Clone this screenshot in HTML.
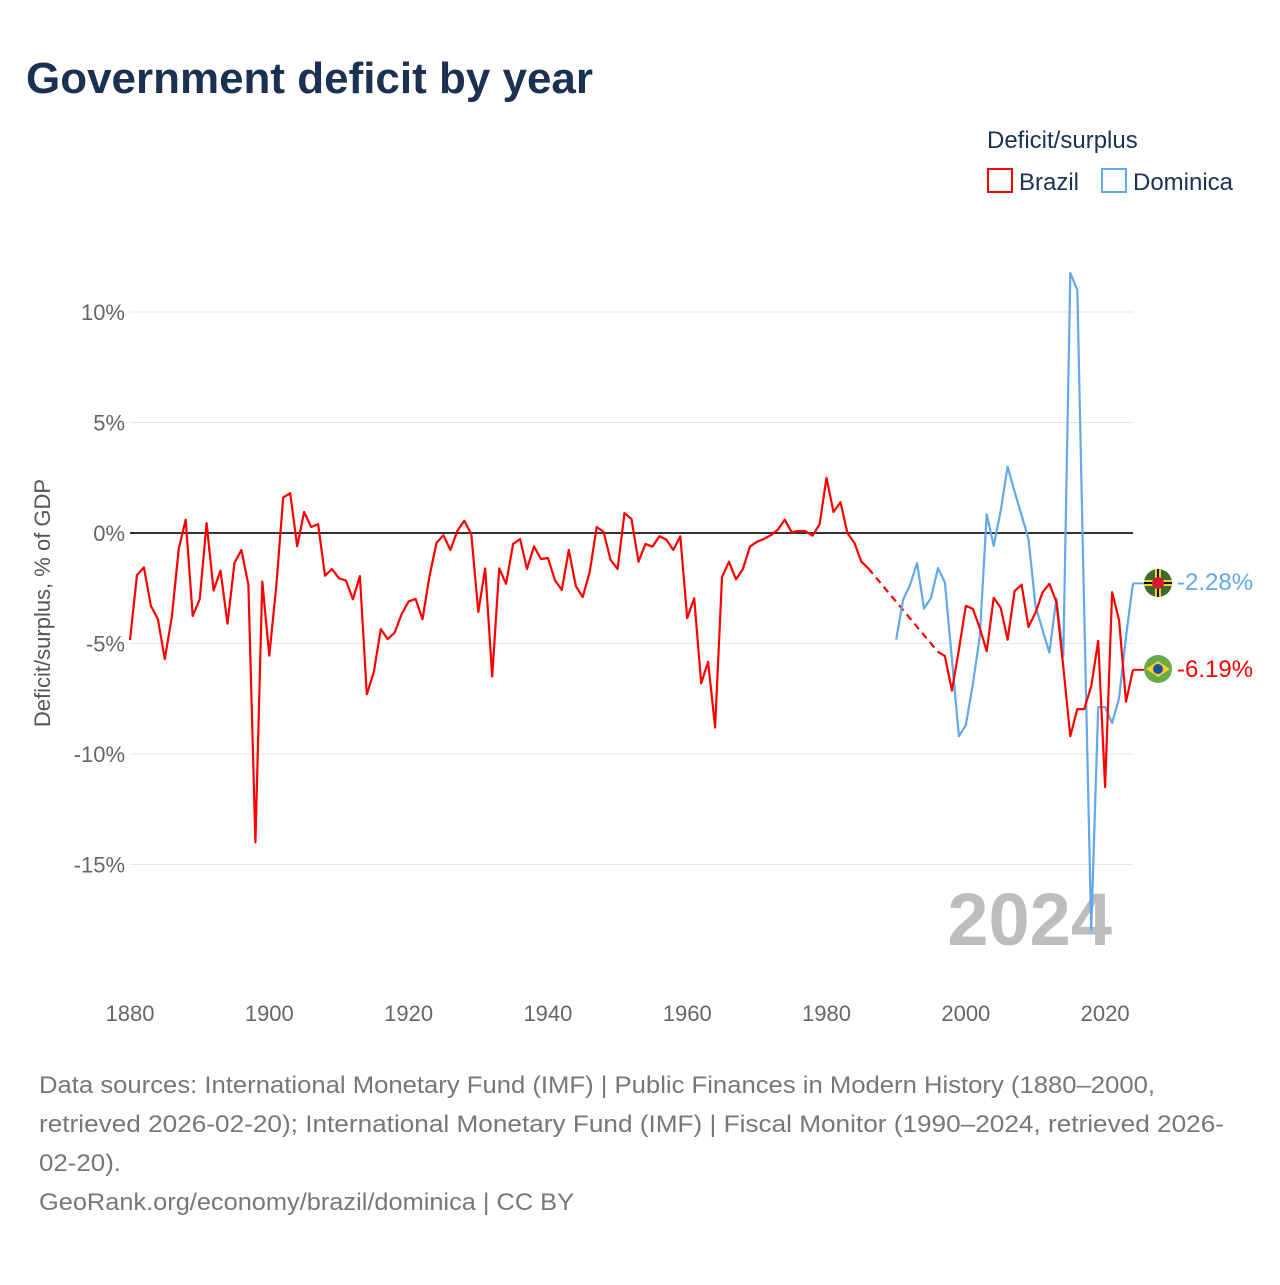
<!DOCTYPE html>
<html><head><meta charset="utf-8"><style>
html,body{margin:0;padding:0;background:#fff;}
body{width:1280px;height:1280px;overflow:hidden;font-family:"Liberation Sans",sans-serif;}
</style></head><body>
<svg id="chart" width="1280" height="1280" xmlns="http://www.w3.org/2000/svg" font-family="Liberation Sans, sans-serif">
<text x="26" y="93" font-size="44" font-weight="bold" fill="#1b3152" textLength="567" lengthAdjust="spacingAndGlyphs">Government deficit by year</text>
<g>
<text x="987" y="148" font-size="24" fill="#1b3152">Deficit/surplus</text>
<rect x="988" y="169" width="24" height="23" fill="none" stroke="#ff0000" stroke-width="2"/>
<text x="1019" y="190" font-size="24" fill="#1b3152">Brazil</text>
<rect x="1102" y="169" width="24" height="23" fill="none" stroke="#62a8ea" stroke-width="2"/>
<text x="1133" y="190" font-size="24" fill="#1b3152">Dominica</text>
</g>
<g id="grid"></g>
<g id="xaxis"></g>
<text transform="translate(50,603) rotate(-90)" text-anchor="middle" font-size="22" fill="#555">Deficit/surplus, % of GDP</text>
<text x="1112" y="945" text-anchor="end" font-size="74" font-weight="bold" fill="#bdbdbd">2024</text>
<g id="series"></g>
<g>
<circle cx="1158" cy="583" r="14" fill="#3d6b2c"/>
<rect x="1155" y="569" width="6" height="28" fill="#f5d130"/><rect x="1144" y="580" width="28" height="6" fill="#f5d130"/>
<rect x="1157" y="569" width="2" height="28" fill="#111"/><rect x="1144" y="582" width="28" height="2" fill="#111"/>
<circle cx="1158" cy="583" r="6" fill="#d41c30"/>
</g>
<text x="1177" y="590" font-size="24" fill="#62a8ea">-2.28%</text>
<g>
<circle cx="1158" cy="669" r="14" fill="#6aa94a"/>
<polygon points="1146,669 1158,661 1170,669 1158,677" fill="#f5d130"/>
<circle cx="1158" cy="669" r="5" fill="#1d4f9c"/>
</g>
<text x="1177" y="677" font-size="24" fill="#ff0000">-6.19%</text>
<g font-size="24" fill="#777">
<text x="39" y="1093" textLength="1116" lengthAdjust="spacingAndGlyphs">Data sources: International Monetary Fund (IMF) | Public Finances in Modern History (1880–2000,</text>
<text x="39" y="1132" textLength="1185" lengthAdjust="spacingAndGlyphs">retrieved 2026-02-20); International Monetary Fund (IMF) | Fiscal Monitor (1990–2024, retrieved 2026-</text>
<text x="39" y="1171" textLength="82" lengthAdjust="spacingAndGlyphs">02-20).</text>
<text x="39" y="1210" textLength="535" lengthAdjust="spacingAndGlyphs">GeoRank.org/economy/brazil/dominica | CC BY</text>
</g>
</svg>
<script>
const yTicks=[10,5,0,-5,-10,-15];
const yTickLabels=["10%","5%","0%","-5%","-10%","-15%"];
const xTicks=[1880,1900,1920,1940,1960,1980,2000,2020];
const brazilYears1=[1880,1881,1882,1883,1884,1885,1886,1887,1888,1889,1890,1891,1892,1893,1894,1895,1896,1897,1898,1899,1900,1901,1902,1903,1904,1905,1906,1907,1908,1909,1910,1911,1912,1913,1914,1915,1916,1917,1918,1919,1920,1921,1922,1923,1924,1925,1926,1927,1928,1929,1930,1931,1932,1933,1934,1935,1936,1937,1938,1939,1940,1941,1942,1943,1944,1945,1946,1947,1948,1949,1950,1951,1952,1953,1954,1955,1956,1957,1958,1959,1960,1961,1962,1963,1964,1965,1966,1967,1968,1969,1970,1971,1972,1973,1974,1975,1976,1977,1978,1979,1980,1981,1982,1983,1984,1985,1986];
const brazilValues1=[-4.84,-1.9,-1.55,-3.3,-3.9,-5.7,-3.8,-0.7,0.6,-3.75,-3.0,0.45,-2.6,-1.7,-4.1,-1.35,-0.77,-2.35,-14.0,-2.2,-5.55,-2.4,1.6,1.8,-0.6,0.95,0.27,0.4,-1.93,-1.63,-2.05,-2.15,-3.0,-1.95,-7.3,-6.3,-4.35,-4.8,-4.5,-3.67,-3.1,-2.98,-3.9,-1.95,-0.45,-0.1,-0.77,0.1,0.55,-0.05,-3.57,-1.6,-6.5,-1.6,-2.3,-0.5,-0.27,-1.63,-0.6,-1.18,-1.13,-2.13,-2.58,-0.77,-2.4,-2.9,-1.77,0.27,0.05,-1.22,-1.63,0.9,0.63,-1.3,-0.5,-0.62,-0.15,-0.3,-0.77,-0.15,-3.85,-2.95,-6.8,-5.83,-8.8,-2.0,-1.3,-2.1,-1.63,-0.62,-0.4,-0.27,-0.1,0.15,0.6,0.03,0.1,0.08,-0.12,0.4,2.5,0.95,1.4,0.0,-0.45,-1.3,-1.6];
const brazilYears2=[1996,1997,1998,1999,2000,2001,2002,2003,2004,2005,2006,2007,2008,2009,2010,2011,2012,2013,2014,2015,2016,2017,2018,2019,2020,2021,2022,2023,2024];
const brazilValues2=[-5.38,-5.57,-7.13,-5.28,-3.3,-3.43,-4.3,-5.35,-2.93,-3.38,-4.83,-2.63,-2.34,-4.25,-3.61,-2.69,-2.3,-3.12,-6.06,-9.19,-7.97,-7.97,-6.94,-4.88,-11.5,-2.68,-3.95,-7.63,-6.19];
const dominicaYears=[1990,1991,1992,1993,1994,1995,1996,1997,1998,1999,2000,2001,2002,2003,2004,2005,2006,2007,2008,2009,2010,2011,2012,2013,2014,2015,2016,2017,2018,2019,2020,2021,2022,2023,2024];
const dominicaValues=[-4.83,-3.02,-2.34,-1.36,-3.42,-2.93,-1.59,-2.24,-5.7,-9.19,-8.7,-6.84,-4.69,0.84,-0.58,1.0,3.0,1.87,0.8,-0.28,-3.3,-4.38,-5.41,-2.96,-5.57,11.76,11.0,-3.5,-17.96,-7.88,-7.88,-8.6,-7.46,-4.69,-2.28];

const NS="http://www.w3.org/2000/svg";
function xs(yr){return 130+(yr-1880)*(1003/144);}
function ys(v){return 533-v*22.1;}
function mk(tag,attrs,parent){const e=document.createElementNS(NS,tag);for(const k in attrs)e.setAttribute(k,attrs[k]);parent.appendChild(e);return e;}
const grid=document.getElementById('grid'),xa=document.getElementById('xaxis'),ser=document.getElementById('series');
yTicks.forEach((t,i)=>{
  const l=mk('line',{x1:130,x2:1133,y1:ys(t),y2:ys(t),stroke:t===0?'#333':'#e6e6e6','stroke-width':t===0?2:1},grid);
  
  
  const tx=mk('text',{x:125,y:ys(t)+8,'text-anchor':'end','font-size':22,fill:'#666'},grid);
  tx.textContent=yTickLabels[i];
  
  
});
xTicks.forEach(t=>{
  const tx=mk('text',{x:xs(t),y:1021,'text-anchor':'middle','font-size':22,fill:'#666'},xa);
  tx.textContent=t;
  
  
});
function pts(ya,va){return ya.map((y,i)=>xs(y).toFixed(1)+','+ys(va[i]).toFixed(1)).join(' ');}
const b1=mk('polyline',{points:pts(brazilYears1,brazilValues1),fill:'none',stroke:'#ff0000','stroke-width':2.2,'stroke-linejoin':'round'},ser);


const n1=brazilYears1.length-1;
const bd=mk('line',{x1:xs(brazilYears1[n1]),y1:ys(brazilValues1[n1]),x2:xs(brazilYears2[0]),y2:ys(brazilValues2[0]),stroke:'#ff0000','stroke-width':2.2,'stroke-dasharray':'7,5'},ser);


const d=mk('polyline',{points:pts(dominicaYears,dominicaValues),fill:'none',stroke:'#62a8ea','stroke-width':2.2,'stroke-linejoin':'round'},ser);


const b2=mk('polyline',{points:pts(brazilYears2,brazilValues2),fill:'none',stroke:'#ff0000','stroke-width':2.2,'stroke-linejoin':'round'},ser);


const dn=dominicaYears.length-1, bn=brazilYears2.length-1;
const dc=mk('line',{x1:xs(dominicaYears[dn]),x2:1144,y1:ys(dominicaValues[dn]),y2:ys(dominicaValues[dn]),stroke:'#62a8ea','stroke-width':2},ser);


const bc=mk('line',{x1:xs(brazilYears2[bn]),x2:1144,y1:ys(brazilValues2[bn]),y2:ys(brazilValues2[bn]),stroke:'#ff0000','stroke-width':2},ser);


</script>
</body></html>
